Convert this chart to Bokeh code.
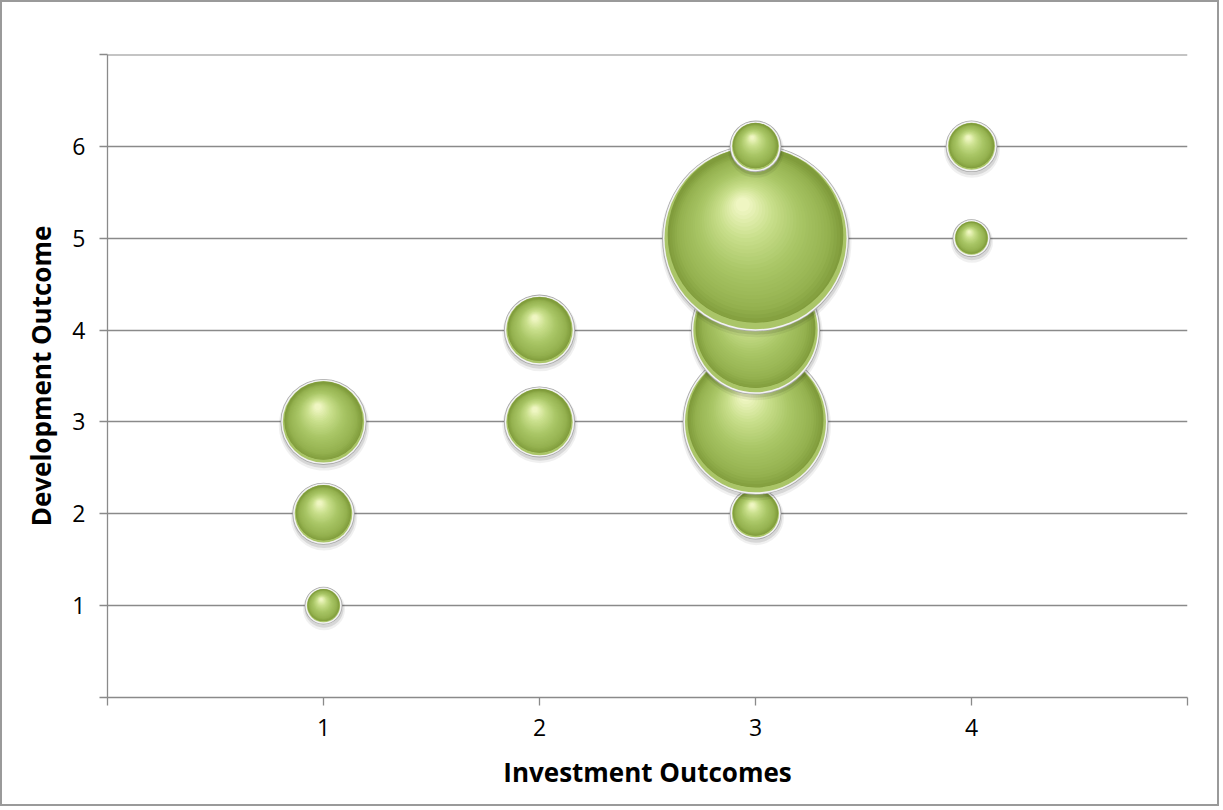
from math import sqrt

from bokeh.embed import file_html
from bokeh.models import FixedTicker, Range1d, ColumnDataSource, Span
from bokeh.plotting import figure
from bokeh.resources import INLINE

# Bubble data: investment outcome (x), development outcome (y), number of projects (bubble size)
investment = [1, 1, 1, 2, 2, 3, 3, 3, 3, 3, 4, 4]
development = [1, 2, 3, 3, 4, 2, 3, 4, 5, 6, 5, 6]
projects = [1, 3, 6, 4, 4, 2, 18, 14, 30, 2, 1, 2]

x_ticks = [0, 1, 2, 3, 4, 5]
y_ticks = [0, 1, 2, 3, 4, 5, 6, 7]
x_title = "Investment Outcomes"
y_title = "Development Outcome"

# Layout
X_START, X_END = 0, 5
Y_START, Y_END = 0, 7
LEFT, TOP, RIGHT, BOTTOM = 105, 52, 34, 111
W, H = 1219, 806
FRAME_W = W - LEFT - RIGHT
FRAME_H = H - TOP - BOTTOM
MAX_DIAM = 182.0  # diameter in px of the largest bubble

FONT = "Open Sans"
GRID = "#8a8a8a"

p = figure(
    width=W, height=H,
    x_range=Range1d(X_START, X_END), y_range=Range1d(Y_START, Y_END),
    output_backend="svg", toolbar_location=None,
    min_border_left=LEFT, min_border_right=RIGHT,
    min_border_top=TOP, min_border_bottom=BOTTOM,
)
p.styles = {"border": "2px solid #9a9a9a"}
p.outline_line_color = None
p.background_fill_color = "white"
p.border_fill_color = "white"

# axes
p.xaxis.ticker = FixedTicker(ticks=x_ticks)
p.yaxis.ticker = FixedTicker(ticks=y_ticks)
p.xaxis.major_label_overrides = {x_ticks[0]: "", x_ticks[-1]: ""}
p.yaxis.major_label_overrides = {y_ticks[0]: "", y_ticks[-1]: ""}
for ax in (p.xaxis, p.yaxis):
    ax.axis_line_color = GRID
    ax.axis_line_width = 1.3
    ax.major_tick_line_color = GRID
    ax.major_tick_line_width = 1.3
    ax.major_tick_in = 0
    ax.major_tick_out = 8
    ax.minor_tick_line_color = None
    ax.major_label_text_font = FONT
    ax.major_label_text_font_size = "23px"
    ax.major_label_text_color = "black"
    ax.axis_label_text_font = FONT
    ax.axis_label_text_font_style = "bold"
    ax.axis_label_text_font_size = "26px"
    ax.axis_label_text_color = "black"
p.xaxis.axis_label = x_title
p.yaxis.axis_label = y_title
p.xaxis.major_label_standoff = 13
p.xaxis.axis_label_standoff = 15
p.yaxis.major_label_standoff = 14
p.yaxis.axis_label_standoff = 10

p.xgrid.grid_line_color = None
p.ygrid.ticker = FixedTicker(ticks=y_ticks)
p.ygrid.grid_line_color = GRID
p.ygrid.grid_line_width = 1.3
# gridline at the top of the value axis
p.add_layout(Span(location=y_ticks[-1], dimension="width",
                  line_color=GRID, line_width=2.2))

# shading of each sphere: (t, colour) stops from the rim to the highlight
STOPS = [
    (0.00, (0x80, 0x9c, 0x3c)),
    (0.15, (0x95, 0xb2, 0x50)),
    (0.45, (0xa9, 0xc6, 0x66)),
    (0.75, (0xc9, 0xdf, 0x8c)),
    (1.00, (0xef, 0xf6, 0xc2)),
]


def shade(t):
    for (t0, c0), (t1, c1) in zip(STOPS[:-1], STOPS[1:]):
        if t <= t1:
            f = (t - t0) / (t1 - t0)
            return "#%02x%02x%02x" % tuple(round(a + (b - a) * f) for a, b in zip(c0, c1))
    return "#%02x%02x%02x" % STOPS[-1][1]


px_x = FRAME_W / (X_END - X_START)
px_y = FRAME_H / (Y_END - Y_START)
max_size = max(projects)
STEPS = 30

for xi, yi, si in zip(investment, development, projects):
    r = MAX_DIAM / 2 * sqrt(si / max_size)
    xs, ys, sizes, colors, alphas = [], [], [], [], []

    def add(dx, dy, rad, color, alpha=1.0):
        xs.append(xi + dx / px_x)
        ys.append(yi - dy / px_y)
        sizes.append(2 * rad)
        colors.append(color)
        alphas.append(alpha)

    # soft drop shadow
    add(0.5, 3.5, r + 4.5, "#000000", 0.06)
    add(0.5, 2.5, r + 3.0, "#000000", 0.10)
    # light rim
    add(0, 0, r + 2.3, "#a8a8a8")
    add(0, 0, r + 1.5, "#f3f3f3")
    # reflected light along the lower edge
    add(0, 0, r, "#aac568")
    add(0, -0.035 * r, r * 0.965, shade(0.0))
    # body shading toward the highlight (up and to the left)
    for k in range(1, STEPS + 1):
        t = k / STEPS
        add(-0.14 * r * t, -0.37 * r * t, r * 0.965 * (1 - 0.92 * t), shade(t))

    src = ColumnDataSource(dict(x=xs, y=ys, size=sizes, color=colors, alpha=alphas))
    p.scatter("x", "y", size="size", marker="circle", source=src,
              fill_color="color", fill_alpha="alpha", line_color=None)

open("out.html", "w").write(file_html(p, INLINE))
